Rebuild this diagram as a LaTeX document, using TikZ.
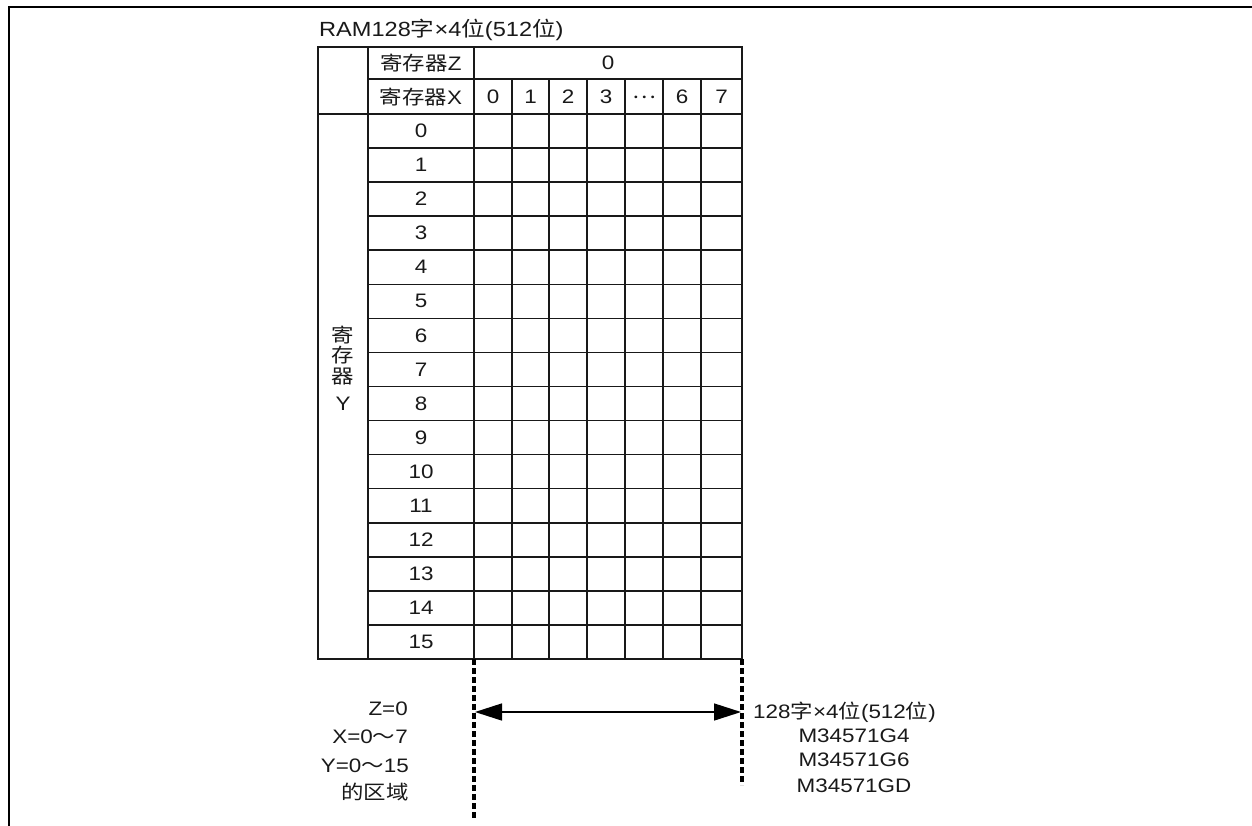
\documentclass[tikz,border=0pt]{standalone}
\usepackage{fontspec}
\setmainfont[FakeStretch=1.15]{Liberation Sans}
\newfontfamily\cjk[FakeStretch=1.15]{Noto Sans CJK SC}
\usetikzlibrary{arrows.meta}
\newcommand{\Cj}[1]{{\cjk #1}}
\begin{document}
\begin{tikzpicture}[x={(1pt,0pt)},y={(0pt,-1pt)},
  tbl/.style={line width=1.6pt, draw=black!90},
  txt/.style={inner sep=0pt, font=\fontsize{19.5}{21}\selectfont, text=black!90},
  frame/.style={line width=2.2pt},
  dline/.style={line width=3.4pt, dash pattern=on 6pt off 3pt},
  dimarrow/.style={line width=1.5pt, {Triangle[length=27pt,width=17pt]}-{Triangle[length=27pt,width=17pt]}}]
\useasboundingbox (0,0) rectangle (1252,825);
% frame
\coordinate (fb) at (9,826);
\coordinate (fc) at (9,7);
\coordinate (fr) at (1253,7);
\draw[frame] (fb) -- (fc) -- (fr);
% title
\node[txt, anchor=base west, font=\fontsize{20.5}{22}\selectfont] (title) at (319,36) {RAM128\Cj{字}×4\Cj{位}(512\Cj{位})};
% table lines
\draw[tbl] (318,47) rectangle (742,659);
\draw[tbl] (368,47) -- (368,659);
\draw[tbl] (474,47) -- (474,659);
\draw[tbl] (368,79) -- (742,79);
\draw[tbl] (318,114) -- (742,114);
\foreach \i in {1,...,15} \draw[tbl] (368,{114+34.0625*\i}) -- (742,{114+34.0625*\i});
\foreach \x in {512,549,587,625,663,701} \draw[tbl] (\x,79) -- (\x,659);
% header texts
\node[txt] (hz) at (421,63) {\Cj{寄存器}Z};
\node[txt] (hz0) at (608,63) {0};
\node[txt] (hx) at (421,97) {\Cj{寄存器}X};
\node[txt] (c0) at (493,97) {0};
\node[txt] (c1) at (530.5,97) {1};
\node[txt] (c2) at (568,97) {2};
\node[txt] (c3) at (606,97) {3};
\node[txt] (c4) at (644,97) {\Cj{…}};
\node[txt] (c6) at (682,97) {6};
\node[txt] (c7) at (721.5,97) {7};
% row labels
\foreach \i in {0,...,15} \node[txt] (r\i) at (421,{114+34.0625*(\i+0.5)}) {\i};
% vertical label
\node[txt, anchor=base] (y1) at (343,342) {\Cj{寄}};
\node[txt, anchor=base] (y2) at (343,362) {\Cj{存}};
\node[txt, anchor=base] (y3) at (343,383) {\Cj{器}};
\node[txt, anchor=base] (y4) at (343,410) {Y};
% dashed lines
\coordinate (dlt) at (474,659);
\coordinate (dlb) at (474,818);
\coordinate (drt) at (742,659);
\coordinate (drb) at (742,785);
\draw[dline] (dlt) -- (dlb);
\draw[dline] (drt) -- (drb);
% arrow
\coordinate (aL) at (475,712);
\coordinate (aR) at (741,712);
\draw[dimarrow] (aL) -- (aR);
% left text
\node[txt, anchor=base east] (l1) at (408,715.5) {Z=0};
\node[txt, anchor=base east] (l2) at (408,743.5) {X=0\Cj{～}7};
\node[txt, anchor=base east] (l3) at (409,772.5) {Y=0\Cj{～}15};
\node[txt, anchor=base east] (l4) at (409,799) {\Cj{的区域}};
% right text
\node[txt, anchor=base west] (m0) at (753,718.5) {128\Cj{字}×4\Cj{位}(512\Cj{位})};
\node[txt, anchor=base] (m1) at (854,742.5) {M34571G4};
\node[txt, anchor=base] (m2) at (854,766.5) {M34571G6};
\node[txt, anchor=base] (m3) at (854,792.5) {M34571GD};
\end{tikzpicture}
\end{document}
